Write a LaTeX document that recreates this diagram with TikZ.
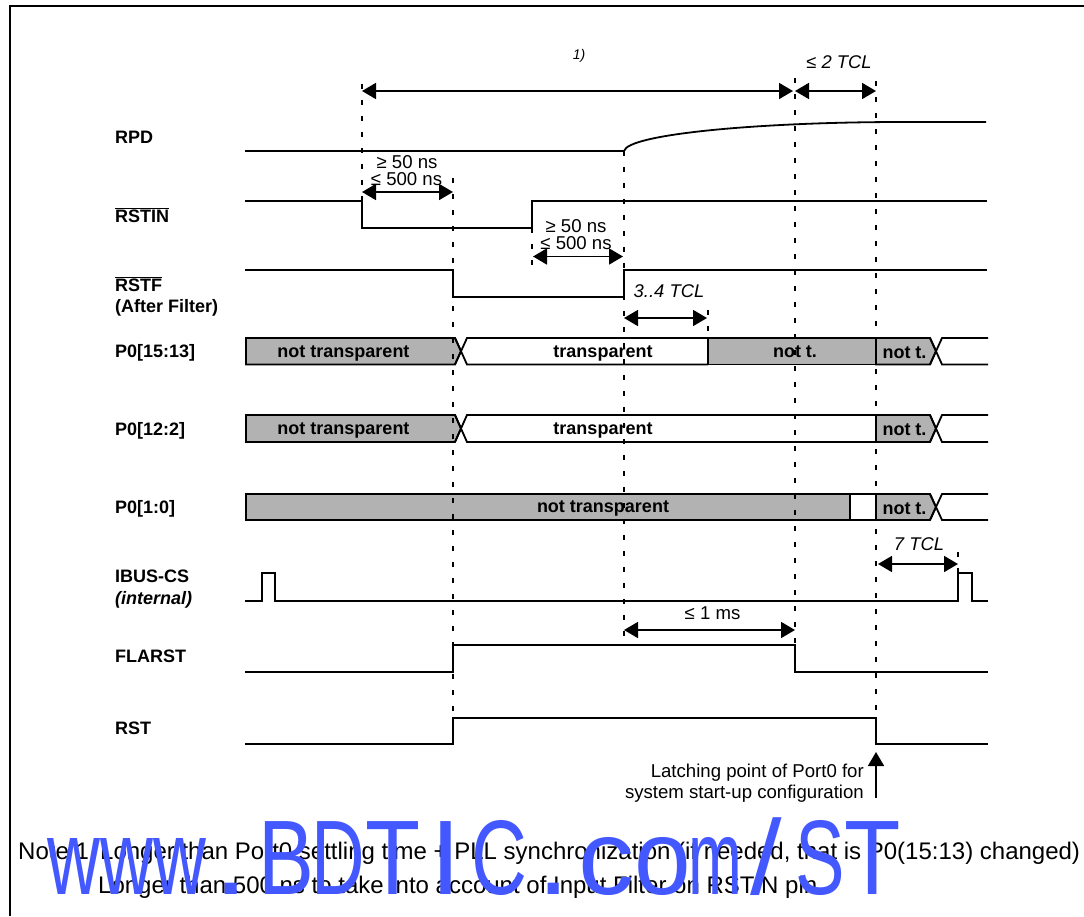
\documentclass[tikz,border=0pt]{standalone}
\usepackage{graphicx}
\usepackage{fontspec}
\setmainfont{Liberation Sans}
\usetikzlibrary{arrows.meta}
\definecolor{busgrey}{RGB}{178,178,178}
\definecolor{wmblue}{RGB}{68,88,255}
\newcommand{\wmchar}[3]{\rlap{\hspace{#1pt}\scalebox{#2}[1]{#3}}}
\begin{document}
\begin{tikzpicture}
	  [
	    x                       = 1pt,
	    y                       = -1pt,
	    every node/.style       = {inner sep=0pt, font=\fontsize{18.6}{21}\selectfont},
	    siglabel/.style         = {anchor=west, font=\fontsize{18}{21}\selectfont\bfseries},
	    buslabel/.style         = {font=\fontsize{18}{21}\selectfont\bfseries},
	    timelabel/.style        = {font=\fontsize{18.4}{21}\selectfont\itshape},
	    notetext/.style         = {anchor=base west, font=\fontsize{24}{27}\selectfont},
	    wave/.style             = {draw, line width=1.8pt, line join=miter},
	    busfill/.style          = {wave, fill=busgrey},
	    timeline/.style         = {draw, line width=1.8pt, dash pattern=on 5.4pt off 10.6pt},
	    tip/.style              = {line width=1.8pt, -{Triangle[length=14pt,width=16pt]}},
	    dim/.style              = {draw, line width=1.8pt, {Triangle[length=14pt,width=16pt]}-{Triangle[length=14pt,width=16pt]}}
	  ]
		\useasboundingbox (0,0) rectangle (1084,916);
		% frame
		\draw[line width=1.8pt] (10,916) -- (10,6) -- (1084,6);
		% single lines
		\draw[wave] (245,151) -- (624,151) .. controls (628,134) and (760,122) .. (902,122) -- (986,122);
		\draw[wave] (245,201) -- (362,201) -- (362,228) -- (532,228) -- (532,201) -- (987,201);
		\draw[wave] (245,270) -- (453,270) -- (453,297) -- (624,297) -- (624,270) -- (987,270);
		\draw[wave] (245,601) -- (262,601) -- (262,573) -- (275,573) -- (275,601) -- (958,601) -- (958,573) -- (972,573) -- (972,601) -- (988,601);
		\draw[wave] (245,672) -- (453,672) -- (453,645) -- (795,645) -- (795,672) -- (988,672);
		\draw[wave] (245,744) -- (453,744) -- (453,718) -- (876,718) -- (876,744) -- (988,744);
		% P0[15:13]
		\draw[busfill] (246,338) -- (455,338) -- (461,351) -- (455,364.5) -- (246,364.5) -- cycle;
		\draw[wave] (455,338) -- (467,364.5) -- (708,364.5);
		\draw[wave] (455,364.5) -- (467,338) -- (708,338);
		\draw[busfill] (708,338) rectangle (876,364.5);
		\draw[busfill] (876,338) -- (930,338) -- (936,351) -- (930,364.5) -- (876,364.5) -- cycle;
		\draw[wave] (988,338) -- (942,338) -- (930,364.5);
		\draw[wave] (988,364.5) -- (942,364.5) -- (930,338);
		% P0[12:2]
		\draw[busfill] (246,415) -- (455,415) -- (461,428.5) -- (455,442) -- (246,442) -- cycle;
		\draw[wave] (455,415) -- (467,442) -- (876,442);
		\draw[wave] (455,442) -- (467,415) -- (876,415);
		\draw[busfill] (876,415) -- (930,415) -- (936,428.5) -- (930,442) -- (876,442) -- cycle;
		\draw[wave] (988,415) -- (942,415) -- (930,442);
		\draw[wave] (988,442) -- (942,442) -- (930,415);
		% P0[1:0]
		\draw[busfill] (246,494) rectangle (850,520);
		\draw[wave] (850,494) rectangle (876,520);
		\draw[busfill] (876,494) -- (930,494) -- (936,507) -- (930,520) -- (876,520) -- cycle;
		\draw[wave] (988,494) -- (942,494) -- (930,520);
		\draw[wave] (988,520) -- (942,520) -- (930,494);
		% dashed time lines
		\draw[timeline] (362,84) -- (362,201);
		\draw[timeline] (453,178) -- (453,720);
		\draw[timeline] (532,228) -- (532,265);
		\draw[timeline] (624,151) -- (624,642);
		\draw[timeline] (708,310) -- (708,338);
		\draw[timeline] (795,78) -- (795,645);
		\draw[timeline] (876,81) -- (876,718);
		\draw[timeline] (958,552) -- (958,573);
		% signal names
		\node[siglabel] (lblRPD) at (115,137) {RPD};
		\node[siglabel] (lblRSTIN) at (115,215) {$\overline{\mbox{RSTIN}}$};
		\node[siglabel] (lblRSTF) at (115,284) {$\overline{\mbox{RSTF}}$};
		\node[siglabel] (lblFilter) at (115,308) {(After Filter)};
		\node[siglabel] (lblP1513) at (115,353) {P0[15:13]};
		\node[siglabel] (lblP122) at (115,431) {P0[12:2]};
		\node[siglabel] (lblP10) at (115,509) {P0[1:0]};
		\node[siglabel] (lblIBUS) at (115,576) {IBUS-CS};
		\node[siglabel] (lblInternal) at (115,600) {\itshape (internal)};
		\node[siglabel] (lblFLARST) at (115,656) {FLARST};
		\node[siglabel] (lblRST) at (115,728) {RST};
		% bus values
		\node[buslabel] (busA1) at (343.5,353) {not transparent};
		\node[buslabel] (busA2) at (603,353) {transparent};
		\node[buslabel] (busA3) at (795,352) {not t.};
		\node[buslabel] (busA4) at (904.5,353) {not t.};
		\node[buslabel] (busB1) at (343.5,430) {not transparent};
		\node[buslabel] (busB2) at (603,430) {transparent};
		\node[buslabel] (busB3) at (904.5,430) {not t.};
		\node[buslabel] (busC1) at (603,508) {not transparent};
		\node[buslabel] (busC2) at (904.5,509) {not t.};
		% dimensions
		\coordinate (topL) at (362,91);
		\coordinate (topM) at (793,91);
		\coordinate (topN) at (795,91);
		\coordinate (topR) at (876,91);
		\coordinate (inL) at (362,192);
		\coordinate (inR) at (453,192);
		\coordinate (outL) at (533,256.5);
		\coordinate (outR) at (623,256.5);
		\coordinate (filtL) at (624,318);
		\coordinate (filtR) at (707,318);
		\coordinate (clkL) at (878,564);
		\coordinate (clkR) at (958,564);
		\coordinate (msL) at (624,630);
		\coordinate (msR) at (795,630);
		\coordinate (latchS) at (876,798);
		\coordinate (latchE) at (876,752);
		\path[dim] (topL) -- (topM);
		\path[dim] (topN) -- (topR);
		\path[dim] (inL) -- (inR);
		\path[dim] (outL) -- (outR);
		\path[dim] (filtL) -- (filtR);
		\path[dim] (clkL) -- (clkR);
		\path[dim] (msL) -- (msR);
		\draw[tip] (latchS) -- (latchE);
		\node[timelabel, font=\fontsize{14}{16}\selectfont\itshape] (noteMark) at (579,56) {1)};
		\node[timelabel] (lblTwo) at (839,62) {≤ 2 TCL};
		\node (lblMinA) at (407,162) {≥ 50 ns};
		\node (lblMaxA) at (406.5,179) {≤ 500 ns};
		\node (lblMinB) at (576,226) {≥ 50 ns};
		\node (lblMaxB) at (576,243) {≤ 500 ns};
		\node[timelabel] (lblFilt) at (669,291) {3..4 TCL};
		\node[timelabel] (lblSeven) at (919,544) {7 TCL};
		\node (lblMs) at (712.5,613) {≤ 1 ms};
		\node[anchor=east] (lblLatchA) at (864,773) {Latching point of Port0 for};
		\node[anchor=east] (lblLatchB) at (864,794) {system start-up configuration};
		% notes
		\node[notetext] (noteNum) at (18,859) {Note 1};
		\node[notetext] (noteOne) at (100,859) {Longer than Port0 settling time + PLL synchronization (if needed, that is P0(15:13) changed)};
		\node[notetext] (noteTwo) at (98,893) {Longer than 500 ns to take into account of Input Filter on RSTIN pin};
		% watermark, letter by letter from the left page edge
		\node[anchor=base west, text=wmblue, font=\fontsize{106}{110}\selectfont] (watermark) at (0,894) {%
			\wmchar{47}{.69}{www}\wmchar{213}{1.2}{.}%
			\wmchar{258}{.79}{B}\wmchar{311}{.70}{D}\wmchar{365}{.85}{T}\wmchar{430}{1.05}{I}\wmchar{471}{.73}{C}%
			\wmchar{537}{1.1}{.}\wmchar{578}{1.06}{c}\wmchar{634}{.96}{o}\wmchar{688}{.61}{m}\wmchar{750}{1.07}{/}%
			\wmchar{795}{.70}{S}\wmchar{844}{.87}{T}};
	\end{tikzpicture}
\end{document}
